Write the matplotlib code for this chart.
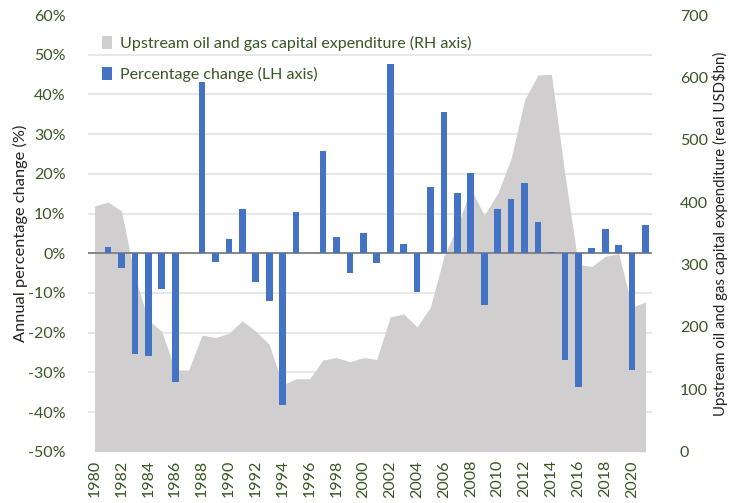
import numpy as np
import matplotlib
matplotlib.use("Agg")
import matplotlib.pyplot as plt
from matplotlib.ticker import FuncFormatter

# ---------------------------------------------------------------
# Data
# ---------------------------------------------------------------
years = list(range(1980, 2022))

capex = [394, 400, 386, 280, 211, 193, 131, 131, 187, 183,
         190, 210, 193, 172, 107, 117, 117, 147, 151, 144,
         151, 148, 216, 221, 200, 232, 313, 361, 422, 379,
         414, 470, 564, 604, 605, 445, 300, 297, 313, 318,
         232, 240]

pct_change = [0, 1.5, -3.6, -25.4, -25.9, -9.1, -32.4, 0, 43.2, -2.3,
              3.7, 11.1, -7.3, -12.0, -38.3, 10.3, 0, 25.8, 4.0, -5.0,
              5.2, -2.5, 47.8, 2.4, -9.8, 16.8, 35.7, 15.3, 20.3, -13.0,
              11.2, 13.6, 17.7, 7.8, 0.3, -27.0, -33.6, 1.2, 6.0, 2.0,
              -29.4, 7.1]

pct_ticks = list(range(-50, 61, 10))
capex_ticks = list(range(0, 701, 100))
year_ticks = list(range(1980, 2021, 2))

# ---------------------------------------------------------------
# Style
# ---------------------------------------------------------------
plt.rcParams['font.family'] = ['Lato', 'DejaVu Sans']
GREEN = '#375623'
AREA = '#d0cece'
BAR = '#4472c4'
FS = 11.5

fig = plt.figure(figsize=(7.32, 5.03), dpi=100)
ax_area = fig.add_axes([0.120, 0.102, 0.771, 0.868])
ax_bar = ax_area.twinx()

# area on the right-hand axis (drawn underneath)
ax_area.fill_between(years, capex, 0, color=AREA, lw=0,
                     label='Upstream oil and gas capital expenditure (RH axis)',
                     zorder=2)
ax_area.set_ylim(0, 700)
ax_area.set_xlim(1979.5, 2021.5)
ax_area.yaxis.tick_right()
ax_area.yaxis.set_label_position('right')
ax_area.set_yticks(capex_ticks)
# gridlines follow the left axis steps, sit behind the area
ax_area.set_yticks(np.linspace(0, 700, len(pct_ticks)), minor=True)
ax_area.grid(True, which='minor', axis='y', color='#e3e3e3', lw=1.2, zorder=0)
ax_area.tick_params(axis='y', which='minor', length=0)
ax_area.set_ylabel('Upstream oil and gas capital expenditure (real USD$bn)',
                   fontsize=10.8, color='#222222', labelpad=3)

# bars on the left-hand axis
ax_bar.bar(years, pct_change, width=0.5, color=BAR,
           label='Percentage change (LH axis)', zorder=3)
ax_bar.axhline(0, color='#7f7f7f', lw=1.3, zorder=2)
ax_bar.set_ylim(-50, 60)
ax_bar.yaxis.tick_left()
ax_bar.yaxis.set_label_position('left')
ax_bar.set_yticks(pct_ticks)
ax_bar.yaxis.set_major_formatter(FuncFormatter(lambda v, p: f'{v:.0f}%'))
ax_bar.set_ylabel('Annual percentage change (%)', fontsize=11.8,
                  color='#222222', labelpad=0)

ax_area.set_xticks(year_ticks)
ax_area.set_xticklabels([str(y) for y in year_ticks], rotation=90)

for a in (ax_area, ax_bar):
    for s in a.spines.values():
        s.set_visible(False)
    a.tick_params(axis='both', which='major', length=0, labelsize=FS,
                  labelcolor=GREEN, pad=6)
ax_bar.tick_params(axis='y', pad=16)
ax_area.tick_params(axis='y', pad=20)

# legend
h1, l1 = ax_area.get_legend_handles_labels()
h2, l2 = ax_bar.get_legend_handles_labels()
leg = ax_bar.legend(h1 + h2, l1 + l2, loc='upper left',
                    bbox_to_anchor=(0.0, 0.985), frameon=False,
                    fontsize=FS, handlelength=0.6, handleheight=0.8,
                    handletextpad=0.5, labelspacing=1.0)
for t in leg.get_texts():
    t.set_color(GREEN)

fig.savefig('out.png', dpi=100)
